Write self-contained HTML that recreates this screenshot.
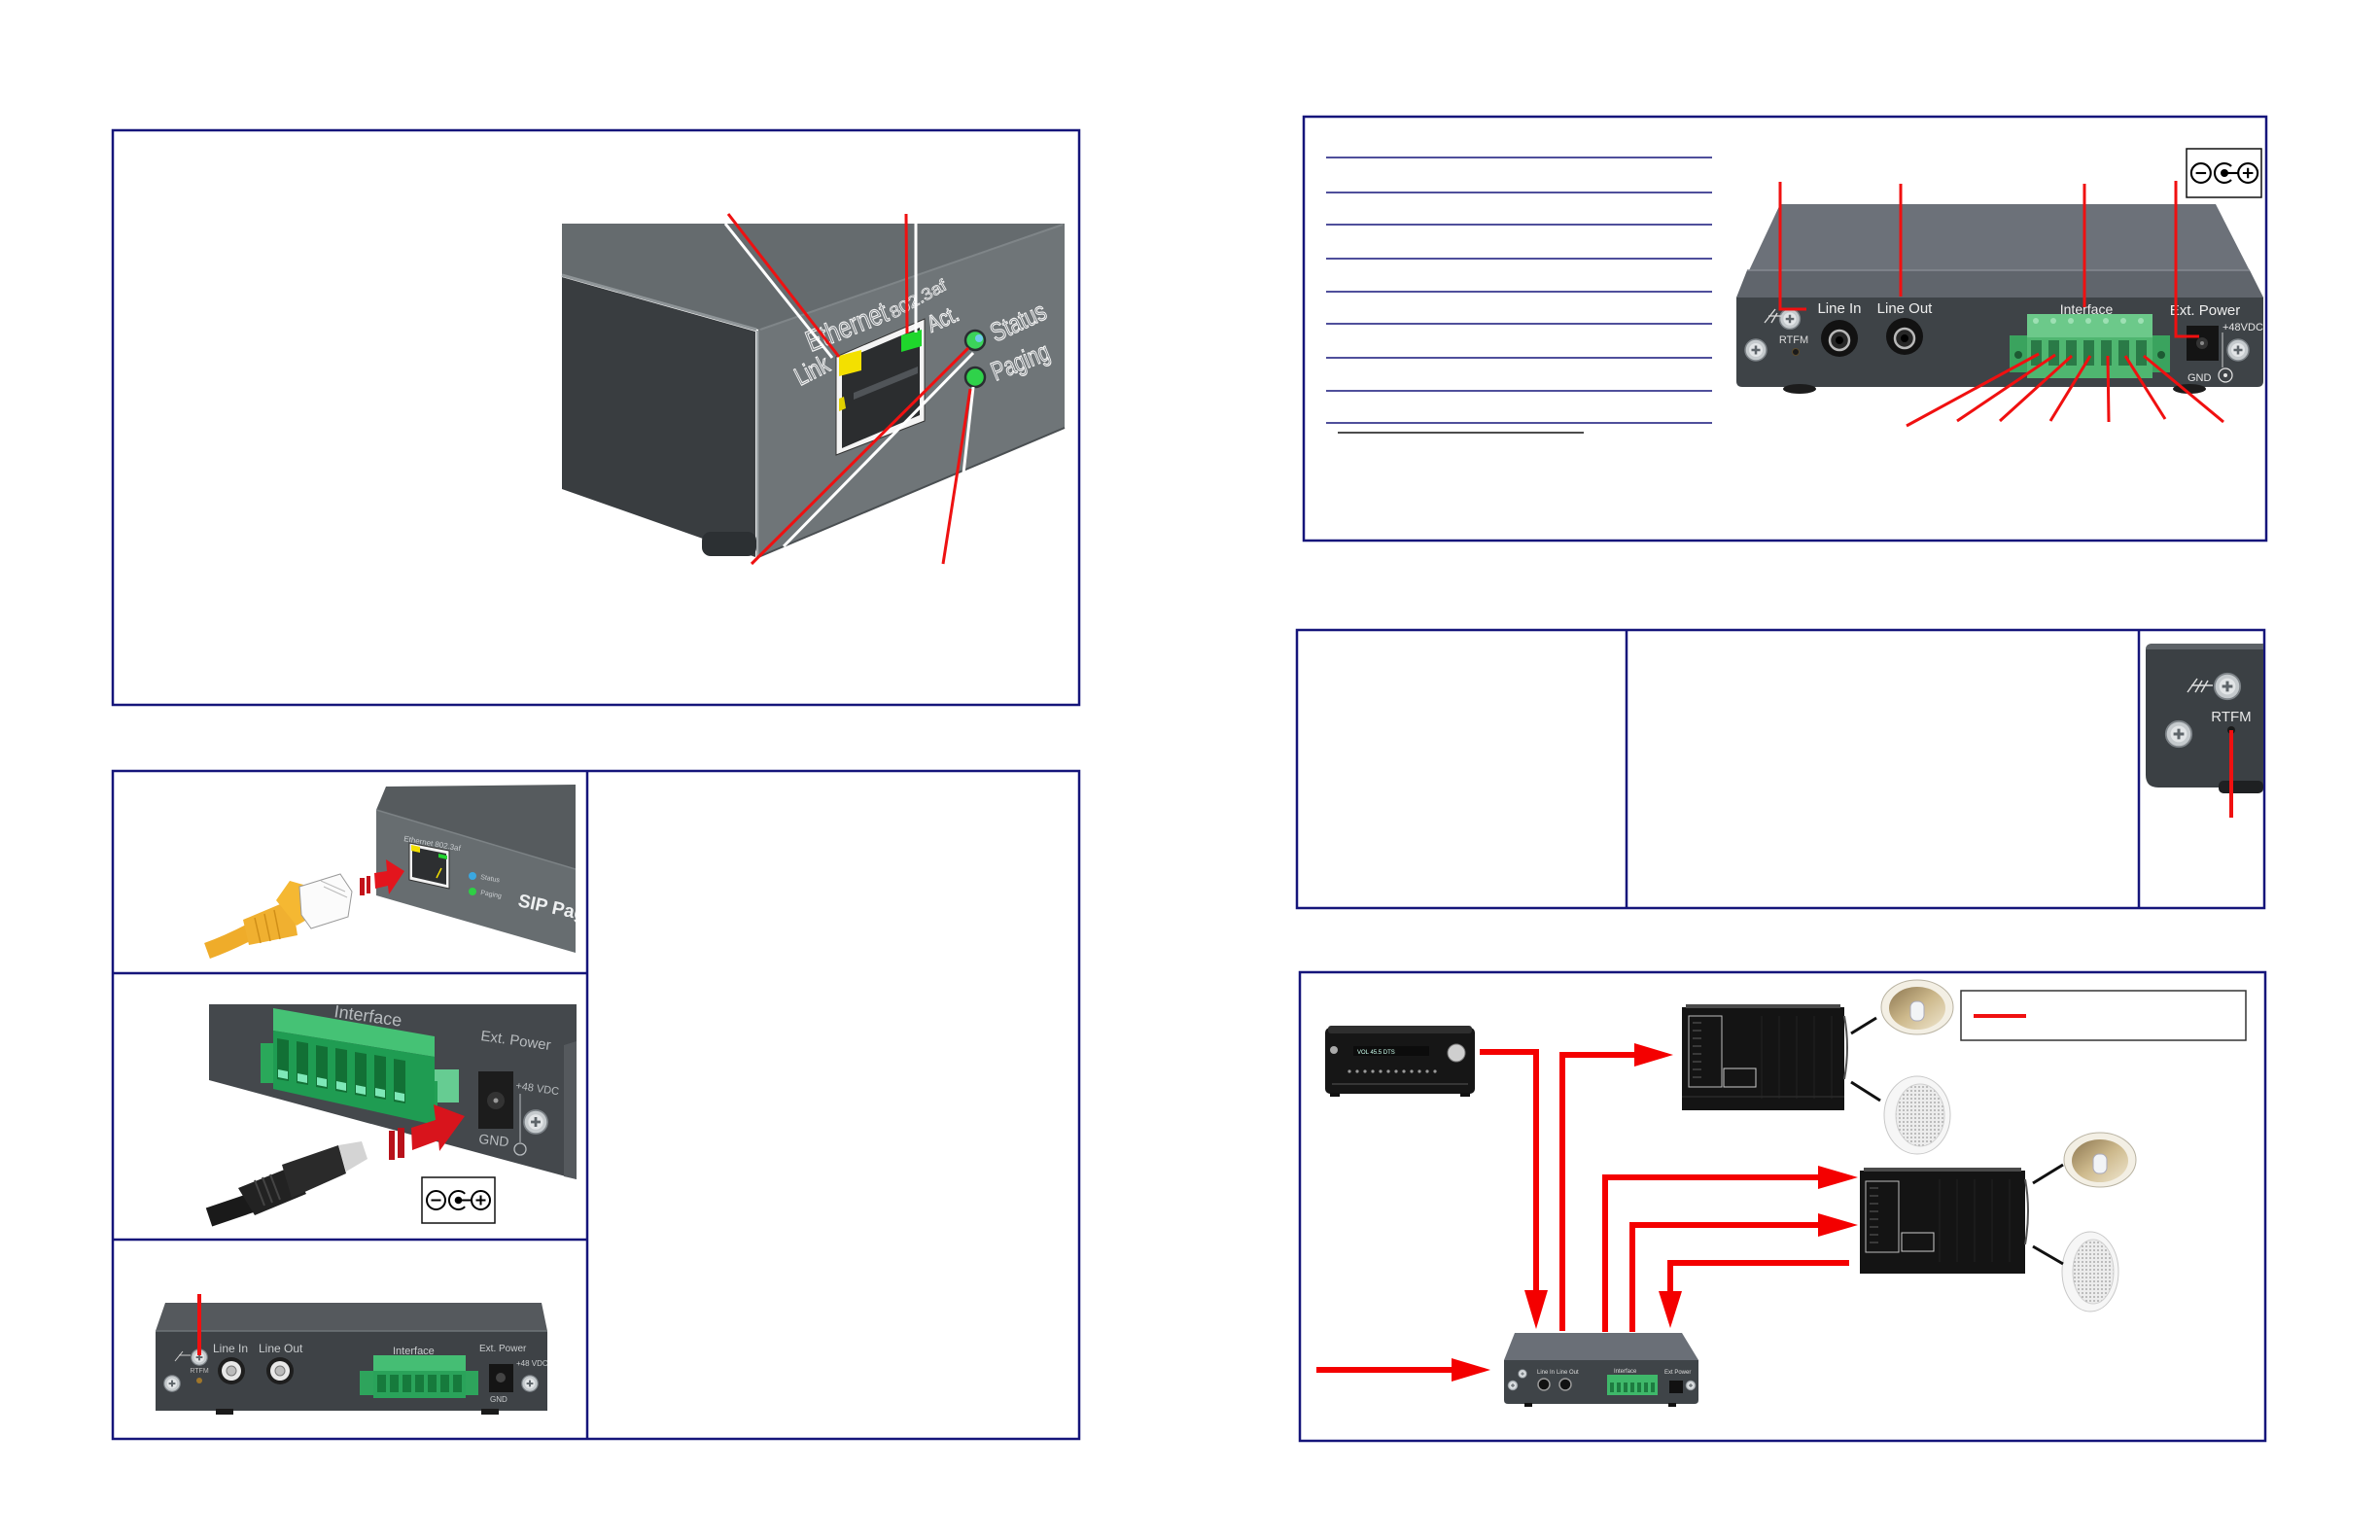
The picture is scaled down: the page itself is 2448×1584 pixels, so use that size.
<!DOCTYPE html>
<html><head><meta charset="utf-8">
<style>
html,body{margin:0;padding:0;background:#fff;}
svg{display:block}
text{font-family:"Liberation Sans",sans-serif}
</style></head><body>
<svg width="2448" height="1584" viewBox="0 0 2448 1584" xmlns="http://www.w3.org/2000/svg">
<defs>
  <g id="scr">
    <circle r="11" fill="#c5cacd" stroke="#7d8388" stroke-width="1.5"/>
    <circle r="7" fill="#e2e5e7"/>
    <path d="M-4.5,0 H4.5 M0,-4.5 V4.5" stroke="#5e656a" stroke-width="2.5"/>
  </g>
  <g id="pwr" fill="none" stroke="#000" stroke-width="2">
    <circle cx="-23" cy="0" r="9.5"/>
    <path d="M-28,0 H-18"/>
    <path d="M6.7,-6.7 A9.5 9.5 0 1 0 6.7,6.7"/>
    <circle cx="0" cy="0" r="2.8" fill="#000"/>
    <path d="M0,0 H13.5"/>
    <circle cx="23" cy="0" r="9.5"/>
    <path d="M18,0 H28 M23,-5 V5"/>
  </g>
  <pattern id="grille" width="4" height="4" patternUnits="userSpaceOnUse">
    <rect width="4" height="4" fill="#ececec"/>
    <circle cx="2" cy="2" r="0.9" fill="#9a9a9a"/>
  </pattern>
  <linearGradient id="horn" x1="0" y1="0" x2="1" y2="1">
    <stop offset="0" stop-color="#8c7650"/>
    <stop offset="0.5" stop-color="#cdb98c"/>
    <stop offset="1" stop-color="#efe6cf"/>
  </linearGradient>
  <clipPath id="c1"><rect x="370" y="800" width="222" height="190"/></clipPath>
  <clipPath id="c2"><rect x="200" y="1020" width="393" height="250"/></clipPath>
</defs>

<!-- ================= BOX 1 ================= -->
<rect x="116" y="134" width="994" height="591" fill="none" stroke="#15157a" stroke-width="2.5"/>
<polygon points="578,230 1095,230 1095,231 780,339 578,283" fill="#656b6e"/>
<polygon points="780,339 1093,230 1095,230 1095,440 780,573" fill="#6f7578"/>
<polygon points="578,285 777,341 777,573 578,503" fill="#393d40"/>
<path d="M578,283 L778,339" stroke="#8f9598" stroke-width="3"/>
<path d="M779,340 L779,573" stroke="#a0a6a9" stroke-width="2.5"/>
<path d="M782,339 L1093,231" stroke="#7f8588" stroke-width="2"/>
<path d="M780,573 L1095,440" stroke="#4a4f52" stroke-width="2"/>
<rect x="722" y="547" width="56" height="25" rx="9" fill="#2c3033"/>
<!-- ethernet port -->
<polygon points="860,367 951,328 951,433 860,468" fill="#f4f4f4" stroke="#333" stroke-width="1"/>
<polygon points="866,371 946,337 946,427 866,461" fill="#2b2d2f"/>
<polygon points="878,404 944,377 944,384 878,411" fill="#505458"/>
<polygon points="863,366 886,360 886,381 863,387" fill="#f3e000"/>
<polygon points="927,345 948,339 948,356 927,362" fill="#1fd62c"/>
<polygon points="863,410 868,408 870,420 863,423" fill="#e0d000"/>
<!-- LEDs -->
<circle cx="1003" cy="350" r="10" fill="#3bd35a" stroke="#2a2e31" stroke-width="2.5"/>
<circle cx="1007" cy="348" r="4" fill="#6fc9e8"/>
<circle cx="1003" cy="388" r="10" fill="#2fd24a" stroke="#2a2e31" stroke-width="2.5"/>
<!-- texts on device -->
<g fill="#80868a" stroke="#f5f5f5" stroke-width="1.1">
  <text transform="translate(834,362) rotate(-22)" font-size="30" textLength="88" lengthAdjust="spacingAndGlyphs">Ethernet</text>
  <text transform="translate(919,328) rotate(-29)" font-size="17" textLength="64" lengthAdjust="spacingAndGlyphs" stroke-width="0.7">802.3af</text>
  <text transform="translate(823,397) rotate(-27)" font-size="26" textLength="36" lengthAdjust="spacingAndGlyphs">Link</text>
  <text transform="translate(958,342) rotate(-24)" font-size="24" textLength="33" lengthAdjust="spacingAndGlyphs">Act.</text>
  <text transform="translate(1024,352) rotate(-25)" font-size="27" textLength="60" lengthAdjust="spacingAndGlyphs">Status</text>
  <text transform="translate(1024,392) rotate(-22)" font-size="27" textLength="62" lengthAdjust="spacingAndGlyphs">Paging</text>
</g>
<!-- callout lines -->
<g stroke-width="3" fill="none">
  <path d="M746,230 L856,368" stroke="#fff"/>
  <path d="M749,220 L863,367" stroke="#ee1111"/>
  <path d="M942,220 L942,342" stroke="#fff"/>
  <path d="M932,220 L933,343" stroke="#ee1111"/>
  <path d="M806,562 L1001,363" stroke="#fff"/>
  <path d="M773,580 L996,358" stroke="#ee1111"/>
  <path d="M991,487 L1001,398" stroke="#fff"/>
  <path d="M970,580 L998,400" stroke="#ee1111"/>
</g>

<!-- ================= BOX 2 ================= -->
<rect x="1341" y="120" width="990" height="436" fill="none" stroke="#15157a" stroke-width="2.5"/>
<g stroke="#15157a" stroke-width="1.6">
  <path d="M1364,162 H1761"/><path d="M1364,198 H1761"/><path d="M1364,231 H1761"/>
  <path d="M1364,266 H1761"/><path d="M1364,300 H1761"/><path d="M1364,333 H1761"/>
  <path d="M1364,368 H1761"/><path d="M1364,402 H1761"/><path d="M1364,435 H1761"/>
</g>
<path d="M1376,445 H1629" stroke="#111" stroke-width="1.6"/>
<polygon points="1831,210 2279,210 2328,306 1786,306" fill="#6c7179"/>
<polygon points="1797,278 2314,278 2328,306 1786,306" fill="#60656c"/>
<path d="M1797,278 H2314" stroke="#858a91" stroke-width="1.5"/>
<path d="M1786,306 H2328 V392 Q2328,398 2322,398 H1792 Q1786,398 1786,392 Z" fill="#3e4347"/>
<ellipse cx="1851" cy="400" rx="17" ry="5" fill="#1c1c1c"/>
<ellipse cx="2252" cy="400" rx="17" ry="5" fill="#1c1c1c"/>
<use href="#scr" transform="translate(1841,328) scale(0.95)"/>
<use href="#scr" transform="translate(1806,360)"/>
<use href="#scr" transform="translate(2302,360)"/>
<path d="M1815,332 L1826,318 M1819,325 H1832 M1822,332 L1828,322" stroke="#ddd" stroke-width="1.3" fill="none"/>
<text x="1845" y="353" font-size="11" fill="#dcdcdc" text-anchor="middle">RTFM</text>
<circle cx="1847" cy="362" r="3.5" fill="#1a1a1a" stroke="#5b4a2a"/>
<g fill="#eeeeee" font-size="15" text-anchor="middle">
  <text x="1892" y="322">Line In</text>
  <text x="1959" y="322">Line Out</text>
  <text x="2146" y="323" font-size="14">Interface</text>
  <text x="2268" y="324">Ext. Power</text>
</g>
<text x="2286" y="340" font-size="11" fill="#e6e6e6">+48VDC</text>
<text x="2250" y="392" font-size="11" fill="#e6e6e6">GND</text>
<circle cx="2289" cy="386" r="7" fill="none" stroke="#e6e6e6" stroke-width="1.2"/>
<circle cx="2289" cy="386" r="2" fill="#e6e6e6"/>
<path d="M2286,342 V378" stroke="#ccc" stroke-width="1"/>
<circle cx="1892" cy="348" r="19" fill="#121212"/>
<circle cx="1892" cy="350" r="10" fill="#262626" stroke="#b8b8b8" stroke-width="2.5"/>
<circle cx="1892" cy="350" r="4" fill="#000"/>
<circle cx="1959" cy="346" r="19" fill="#121212"/>
<circle cx="1959" cy="348" r="10" fill="#262626" stroke="#b8b8b8" stroke-width="2.5"/>
<circle cx="1959" cy="348" r="4" fill="#000"/>
<rect x="2067" y="345" width="18" height="38" fill="#3aa35e"/>
<rect x="2214" y="345" width="18" height="38" fill="#3aa35e"/>
<circle cx="2076" cy="365" r="4" fill="#1d5a33"/>
<circle cx="2223" cy="365" r="4" fill="#1d5a33"/>
<rect x="2085" y="323" width="129" height="24" fill="#6cc98a"/>
<rect x="2085" y="347" width="129" height="42" fill="#4fb670"/>
<g fill="#2a7a47">
  <rect x="2089" y="350" width="11" height="26"/><rect x="2107" y="350" width="11" height="26"/>
  <rect x="2125" y="350" width="11" height="26"/><rect x="2143" y="350" width="11" height="26"/>
  <rect x="2161" y="350" width="11" height="26"/><rect x="2179" y="350" width="11" height="26"/>
  <rect x="2197" y="350" width="11" height="26"/>
</g>
<g fill="#9ee0b4">
  <circle cx="2094" cy="330" r="3"/><circle cx="2112" cy="330" r="3"/><circle cx="2130" cy="330" r="3"/>
  <circle cx="2148" cy="330" r="3"/><circle cx="2166" cy="330" r="3"/><circle cx="2184" cy="330" r="3"/>
  <circle cx="2202" cy="330" r="3"/>
</g>
<rect x="2249" y="335" width="33" height="36" fill="#141414"/>
<circle cx="2265" cy="353" r="6" fill="#333"/>
<circle cx="2265" cy="353" r="2" fill="#888"/>
<rect x="2249" y="153" width="77" height="50" fill="#fff" stroke="#111" stroke-width="1.5"/>
<use href="#pwr" transform="translate(2288,178) scale(1.05)"/>
<g stroke="#f01010" stroke-width="3" fill="none">
  <path d="M1831,187 V318 H1858"/>
  <path d="M1955,189 V305"/>
  <path d="M2144,189 V316"/>
  <path d="M2238,186 V346 H2262"/>
  <path d="M2097,364 L1961,438"/>
  <path d="M2114,365 L2013,433"/>
  <path d="M2131,366 L2057,433"/>
  <path d="M2150,366 L2109,433"/>
  <path d="M2168,366 L2169,434"/>
  <path d="M2186,366 L2227,431"/>
  <path d="M2205,366 L2287,434"/>
</g>

<!-- ================= BOX 3 ================= -->
<rect x="1334" y="648" width="995" height="286" fill="none" stroke="#15157a" stroke-width="2.5"/>
<path d="M1673,648 V934 M2200,648 V934" stroke="#15157a" stroke-width="2.5"/>
<path d="M2214,662 H2328 V810 H2220 Q2207,810 2207,797 V669 Q2207,662 2214,662 Z" fill="#3b4044"/>
<path d="M2214,662 H2328 V668 H2207 Q2207,662 2214,662 Z" fill="#5d6267"/>
<rect x="2282" y="803" width="46" height="13" rx="5" fill="#1e2022"/>
<path d="M2250,712 L2260,698 M2254,705 H2276 M2258,712 L2265,700 M2264,712 L2271,700" stroke="#ddd" stroke-width="1.5" fill="none"/>
<use href="#scr" transform="translate(2291,706) scale(1.2)"/>
<use href="#scr" transform="translate(2241,755) scale(1.2)"/>
<text x="2295" y="742" font-size="15" fill="#e8e8e8" text-anchor="middle">RTFM</text>
<circle cx="2295" cy="751" r="4" fill="#1a1a1a"/>
<path d="M2295,751 V841" stroke="#f01010" stroke-width="4"/>

<!-- ================= BOX 4 ================= -->
<rect x="116" y="793" width="994" height="687" fill="none" stroke="#15157a" stroke-width="2.5"/>
<path d="M604,793 V1480 M116,1001 H604 M116,1275 H604" stroke="#15157a" stroke-width="2.5"/>
<g clip-path="url(#c1)">
  <polygon points="387,833 397,809 592,807 592,894" fill="#565b5e"/>
  <polygon points="387,833 592,894 592,980 387,921" fill="#676d70"/>
  <path d="M387,833 L592,894" stroke="#7c8285" stroke-width="1.5"/>
  <polygon points="421,867 462,875 462,914 421,905" fill="#f2f2f2" stroke="#333" stroke-width="1"/>
  <polygon points="424,871 459,878 459,910 424,902" fill="#2d2f31"/>
  <polygon points="423,869 432,871 432,877 423,875" fill="#f3e000"/>
  <polygon points="451,878 460,880 460,884 451,882" fill="#22d52e"/>
  <path d="M454,893 L449,903" stroke="#f3e000" stroke-width="1.5"/>
  <circle cx="486" cy="901" r="4" fill="#3aa7e0"/>
  <circle cx="486" cy="917" r="4" fill="#2ecf44"/>
  <text transform="translate(494,904) rotate(10)" font-size="7" fill="#c9cdd0">Status</text>
  <text transform="translate(494,920) rotate(10)" font-size="7" fill="#c9cdd0">Paging</text>
  <text transform="translate(415,865) rotate(10)" font-size="8" fill="#c9cdd0">Ethernet 802.3af</text>
  <text transform="translate(532,932) rotate(12)" font-size="19" font-weight="bold" fill="#eef0f1">SIP Pager</text>
</g>
<rect x="370" y="903" width="5" height="18" fill="#c3121a"/>
<rect x="377" y="901" width="4" height="18" fill="#c3121a"/>
<polygon points="385,898 398,896 397,884 416,896 400,920 399,911 386,914" fill="#e3151d"/>
<!-- cable -->
<path d="M213,978 Q235,970 258,958" stroke="#efac2a" stroke-width="17" fill="none"/>
<polygon points="250,946 300,925 306,962 256,972" fill="#f0b030"/>
<g stroke="#d08f18" stroke-width="1.5"><path d="M262,944 L268,970 M272,940 L278,968 M282,936 L288,966"/></g>
<polygon points="284,926 298,906 312,910 310,928 318,914 328,920 326,940 305,952" fill="#f5b832"/>
<polygon points="308,912 350,899 362,917 358,943 320,955 310,941" fill="#fbfbfb" stroke="#9a9a9a" stroke-width="1"/>
<path d="M330,906 L355,917 M333,912 L357,923" stroke="#bbb" stroke-width="1"/>
<!-- cell 2 -->
<g clip-path="url(#c2)">
  <polygon points="215,1033 593,1033 593,1213 215,1111" fill="#44484c"/>
  <polygon points="580,1075 593,1071 593,1213 580,1210" fill="#55595d"/>
  <text transform="translate(343,1046) rotate(8)" font-size="18" fill="#b8bcbf">Interface</text>
  <text transform="translate(494,1070) rotate(8)" font-size="15" fill="#b8bcbf">Ext. Power</text>
  <text transform="translate(530,1120) rotate(8)" font-size="11" fill="#b8bcbf">+48 VDC</text>
  <text transform="translate(492,1176) rotate(6)" font-size="14" fill="#b8bcbf">GND</text>
  <circle cx="535" cy="1182" r="6" fill="none" stroke="#b8bcbf" stroke-width="1.3"/>
  <path d="M535,1125 V1175" stroke="#b8bcbf" stroke-width="1"/>
  <rect x="492" y="1102" width="36" height="59" fill="#1c1c1c"/>
  <circle cx="510" cy="1132" r="9" fill="#333"/>
  <circle cx="510" cy="1132" r="2.5" fill="#999"/>
  <use href="#scr" transform="translate(551,1154) scale(1.1)"/>
</g>
<rect x="268" y="1073" width="14" height="41" fill="#2aa85a"/>
<rect x="447" y="1100" width="25" height="34" fill="#66cc92"/>
<rect x="426" y="1112" width="24" height="40" fill="#22a055"/>
<circle cx="438" cy="1130" r="6" fill="#167a3c"/>
<polygon points="281,1037 447,1066 447,1087 281,1060" fill="#45c275"/>
<polygon points="281,1060 447,1087 447,1157 281,1120" fill="#1f9c52"/>
<g fill="#127035">
  <polygon points="285,1068 297,1070 297,1112 285,1110"/>
  <polygon points="305,1071 317,1073 317,1116 305,1114"/>
  <polygon points="325,1075 337,1077 337,1120 325,1118"/>
  <polygon points="345,1078 357,1080 357,1124 345,1122"/>
  <polygon points="365,1082 377,1084 377,1128 365,1126"/>
  <polygon points="385,1085 397,1087 397,1131 385,1129"/>
  <polygon points="405,1089 417,1091 417,1135 405,1133"/>
</g>
<g fill="#7ee8b8">
  <polygon points="286,1100 296,1102 296,1110 286,1108"/>
  <polygon points="306,1104 316,1106 316,1114 306,1112"/>
  <polygon points="326,1108 336,1110 336,1118 326,1116"/>
  <polygon points="346,1112 356,1114 356,1122 346,1120"/>
  <polygon points="366,1116 376,1118 376,1126 366,1124"/>
  <polygon points="386,1119 396,1121 396,1129 386,1127"/>
  <polygon points="406,1123 416,1125 416,1133 406,1131"/>
</g>
<rect x="400" y="1163" width="6" height="30" fill="#b8111a"/>
<rect x="409" y="1160" width="7" height="31" fill="#b8111a"/>
<polygon points="423,1160 448,1152 446,1136 478,1148 452,1184 451,1173 424,1183" fill="#d8141c"/>
<path d="M215,1252 L262,1236" stroke="#1a1a1a" stroke-width="20" fill="none"/>
<polygon points="245,1222 300,1200 315,1228 262,1250" fill="#222"/>
<polygon points="290,1198 348,1178 356,1207 300,1232" fill="#2a2a2a"/>
<polygon points="348,1178 372,1174 378,1192 356,1205" fill="#d4d4d4"/>
<path d="M262,1214 L272,1240 M270,1211 L280,1237 M278,1208 L288,1234" stroke="#444" stroke-width="2"/>
<rect x="434" y="1211" width="75" height="47" fill="#fff" stroke="#111" stroke-width="1.5"/>
<use href="#pwr" transform="translate(471.5,1234.5)"/>
<!-- cell 3 -->
<polygon points="170,1340 557,1340 563,1369 160,1369" fill="#55595d"/>
<path d="M160,1369 H563 V1451 H160 Z" fill="#3e4246"/>
<path d="M160,1369 H563" stroke="#6f7478" stroke-width="1.5"/>
<rect x="222" y="1449" width="18" height="6" fill="#1a1a1a"/>
<rect x="495" y="1449" width="18" height="6" fill="#1a1a1a"/>
<use href="#scr" transform="translate(205,1396) scale(0.75)"/>
<use href="#scr" transform="translate(177,1423) scale(0.75)"/>
<use href="#scr" transform="translate(545,1423) scale(0.75)"/>
<path d="M180,1400 L188,1390 M184,1394 H196" stroke="#ccc" stroke-width="1" fill="none"/>
<text x="205" y="1412" font-size="7" fill="#bbb" text-anchor="middle">RTFM</text>
<circle cx="205" cy="1420" r="3" fill="#a0762a"/>
<g font-size="12" fill="#c8cbcd">
  <text x="219" y="1391">Line In</text>
  <text x="266" y="1391">Line Out</text>
  <text x="404" y="1393" font-size="11">Interface</text>
  <text x="493" y="1390" font-size="10">Ext. Power</text>
  <text x="531" y="1405" font-size="8">+48 VDC</text>
  <text x="504" y="1442" font-size="8">GND</text>
</g>
<circle cx="238" cy="1410" r="14" fill="#1e1e1e"/>
<circle cx="238" cy="1410" r="10" fill="#e8e8e8"/>
<circle cx="238" cy="1410" r="5" fill="#bbb" stroke="#777"/>
<circle cx="288" cy="1410" r="14" fill="#1e1e1e"/>
<circle cx="288" cy="1410" r="10" fill="#e8e8e8"/>
<circle cx="288" cy="1410" r="5" fill="#bbb" stroke="#777"/>
<rect x="370" y="1410" width="15" height="25" fill="#2ea45c"/>
<rect x="479" y="1410" width="13" height="25" fill="#2ea45c"/>
<rect x="384" y="1394" width="95" height="16" fill="#45be74"/>
<rect x="384" y="1410" width="95" height="28" fill="#2aa35a"/>
<g fill="#167a3c">
  <rect x="388" y="1414" width="9" height="18"/><rect x="401" y="1414" width="9" height="18"/>
  <rect x="414" y="1414" width="9" height="18"/><rect x="427" y="1414" width="9" height="18"/>
  <rect x="440" y="1414" width="9" height="18"/><rect x="453" y="1414" width="9" height="18"/>
  <rect x="466" y="1414" width="9" height="18"/>
</g>
<rect x="503" y="1403" width="25" height="29" fill="#151515"/>
<circle cx="515" cy="1417" r="5" fill="#444"/>
<path d="M205,1331 V1394" stroke="#f01010" stroke-width="4"/>

<!-- ================= BOX 5 ================= -->
<rect x="1337" y="1000" width="993" height="482" fill="none" stroke="#15157a" stroke-width="2.5"/>
<rect x="1363" y="1057" width="154" height="68" rx="5" fill="#161616"/>
<rect x="1366" y="1055" width="148" height="8" rx="3" fill="#2e2e2e"/>
<rect x="1392" y="1076" width="78" height="10" fill="#0c0c0c"/>
<g fill="#cfe" font-size="6"><text x="1396" y="1084">VOL 45.5   DTS</text></g>
<circle cx="1498" cy="1083" r="9" fill="#cfcfcf" stroke="#777"/>
<circle cx="1372" cy="1080" r="4" fill="#aaa"/>
<g fill="#9a9a9a">
  <circle cx="1388" cy="1102" r="1.6"/><circle cx="1396" cy="1102" r="1.6"/><circle cx="1404" cy="1102" r="1.6"/>
  <circle cx="1412" cy="1102" r="1.6"/><circle cx="1420" cy="1102" r="1.6"/><circle cx="1428" cy="1102" r="1.6"/>
  <circle cx="1436" cy="1102" r="1.6"/><circle cx="1444" cy="1102" r="1.6"/><circle cx="1452" cy="1102" r="1.6"/>
  <circle cx="1460" cy="1102" r="1.6"/><circle cx="1468" cy="1102" r="1.6"/><circle cx="1476" cy="1102" r="1.6"/>
</g>
<path d="M1370,1115 H1510" stroke="#555" stroke-width="1"/>
<rect x="1368" y="1124" width="10" height="4" fill="#111"/><rect x="1502" y="1124" width="10" height="4" fill="#111"/>
<rect x="1730" y="1036" width="167" height="106" fill="#141414"/>
<rect x="1734" y="1033" width="159" height="4" fill="#4a4a4a"/>
<rect x="1737" y="1045" width="34" height="73" fill="none" stroke="#bbb" stroke-width="1"/>
<rect x="1773" y="1099" width="33" height="19" fill="none" stroke="#ccc" stroke-width="1"/>
<g stroke="#777" stroke-width="0.8"><path d="M1741,1052 H1750 M1741,1060 H1750 M1741,1068 H1750 M1741,1076 H1750 M1741,1084 H1750 M1741,1092 H1750 M1741,1100 H1750 M1741,1108 H1750"/></g>
<g stroke="#222" stroke-width="1"><path d="M1812,1045 V1130 M1830,1045 V1130 M1848,1045 V1130 M1866,1045 V1130 M1884,1045 V1130"/></g>
<path d="M1897,1045 Q1903,1077 1897,1110" stroke="#555" stroke-width="2" fill="none"/>
<path d="M1730,1128 H1897" stroke="#2a2a2a" stroke-width="1.5"/>
<rect x="1913" y="1204" width="170" height="106" fill="#141414"/>
<rect x="1917" y="1201" width="162" height="4" fill="#4a4a4a"/>
<rect x="1919" y="1215" width="34" height="73" fill="none" stroke="#bbb" stroke-width="1"/>
<rect x="1956" y="1268" width="33" height="19" fill="none" stroke="#ccc" stroke-width="1"/>
<g stroke="#777" stroke-width="0.8"><path d="M1923,1222 H1932 M1923,1230 H1932 M1923,1238 H1932 M1923,1246 H1932 M1923,1254 H1932 M1923,1262 H1932 M1923,1270 H1932 M1923,1278 H1932"/></g>
<g stroke="#222" stroke-width="1"><path d="M1995,1213 V1298 M2013,1213 V1298 M2031,1213 V1298 M2049,1213 V1298 M2067,1213 V1298"/></g>
<path d="M2083,1213 Q2089,1245 2083,1280" stroke="#555" stroke-width="2" fill="none"/>
<ellipse cx="1972" cy="1036" rx="37" ry="28" fill="#f3efe4" stroke="#b9b3a2"/>
<ellipse cx="1972" cy="1037" rx="29" ry="22" fill="url(#horn)"/>
<rect x="1965" y="1030" width="14" height="20" rx="6" fill="#f2f4f6" stroke="#aab"/>
<ellipse cx="1972" cy="1147" rx="34" ry="40" fill="#f6f6f6" stroke="#c8c8c8"/>
<ellipse cx="1975" cy="1147" rx="25" ry="32" fill="url(#grille)" stroke="#d0d0d0"/>
<ellipse cx="2160" cy="1193" rx="37" ry="28" fill="#f3efe4" stroke="#b9b3a2"/>
<ellipse cx="2160" cy="1194" rx="29" ry="22" fill="url(#horn)"/>
<rect x="2153" y="1187" width="14" height="20" rx="6" fill="#f2f4f6" stroke="#aab"/>
<ellipse cx="2150" cy="1308" rx="29" ry="41" fill="#f6f6f6" stroke="#c8c8c8"/>
<ellipse cx="2153" cy="1308" rx="21" ry="33" fill="url(#grille)" stroke="#d0d0d0"/>
<g stroke="#111" stroke-width="3">
  <path d="M1904,1063 L1930,1047"/>
  <path d="M1904,1113 L1934,1132"/>
  <path d="M2091,1217 L2122,1198"/>
  <path d="M2091,1282 L2122,1300"/>
</g>
<rect x="2017" y="1019" width="293" height="51" fill="#fff" stroke="#333" stroke-width="1.5"/>
<path d="M2030,1045 H2084" stroke="#f01010" stroke-width="4"/>
<polygon points="1558,1371 1730,1371 1747,1399 1547,1399" fill="#6a6f77"/>
<path d="M1547,1399 H1747 V1440 Q1747,1444 1743,1444 H1551 Q1547,1444 1547,1440 Z" fill="#3f4448"/>
<rect x="1568" y="1443" width="8" height="4" fill="#111"/><rect x="1716" y="1443" width="8" height="4" fill="#111"/>
<use href="#scr" transform="translate(1556,1425) scale(0.45)"/>
<use href="#scr" transform="translate(1566,1413) scale(0.4)"/>
<use href="#scr" transform="translate(1739,1425) scale(0.45)"/>
<circle cx="1588" cy="1424" r="6" fill="#111" stroke="#999" stroke-width="1.5"/>
<circle cx="1610" cy="1424" r="6" fill="#111" stroke="#999" stroke-width="1.5"/>
<g font-size="6" fill="#ddd"><text x="1581" y="1413">Line In</text><text x="1601" y="1413">Line Out</text><text x="1660" y="1412">Interface</text><text x="1712" y="1413">Ext Power</text></g>
<rect x="1653" y="1414" width="52" height="21" fill="#3fb86a"/>
<g fill="#1d7c40"><rect x="1656" y="1422" width="4" height="10"/><rect x="1663" y="1422" width="4" height="10"/><rect x="1670" y="1422" width="4" height="10"/><rect x="1677" y="1422" width="4" height="10"/><rect x="1684" y="1422" width="4" height="10"/><rect x="1691" y="1422" width="4" height="10"/><rect x="1698" y="1422" width="4" height="10"/></g>
<rect x="1717" y="1420" width="14" height="13" fill="#111"/>
<g stroke="#f40000" stroke-width="6" fill="none" stroke-linejoin="miter">
  <polyline points="1522,1082 1580,1082 1580,1332"/>
  <polyline points="1607,1369 1607,1085 1684,1085"/>
  <polyline points="1651,1370 1651,1211 1873,1211"/>
  <polyline points="1679,1370 1679,1260 1873,1260"/>
  <polyline points="1902,1299 1718,1299 1718,1332"/>
  <polyline points="1354,1409 1496,1409"/>
</g>
<g fill="#f40000">
  <polygon points="1568,1327 1592,1327 1580,1367"/>
  <polygon points="1681,1073 1681,1097 1721,1085"/>
  <polygon points="1870,1199 1870,1223 1911,1211"/>
  <polygon points="1870,1248 1870,1272 1911,1260"/>
  <polygon points="1706,1328 1730,1328 1718,1366"/>
  <polygon points="1493,1397 1493,1421 1533,1409"/>
</g>
</svg>
</body></html>
